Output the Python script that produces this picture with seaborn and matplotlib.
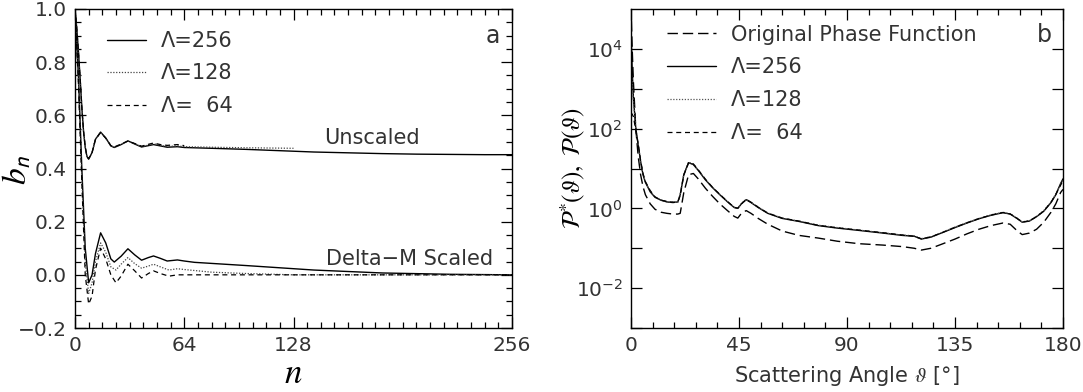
import numpy as np
import pandas as pd
import matplotlib
matplotlib.use("Agg")
import matplotlib.pyplot as plt
import seaborn as sns
from matplotlib.ticker import MultipleLocator, FixedLocator, NullFormatter, LogFormatterMathtext

# ---------------- data: panel a (Legendre coefficients b_n) ----------------
n_unscaled_256 = [0, 1, 2, 3, 4, 5, 6, 7, 8, 10, 12, 15, 18, 21, 23, 27, 31, 35, 39, 43, 46, 50, 54, 60, 64,
                  80, 100, 120, 140, 160, 180, 200, 220, 240, 256]
b_unscaled_256 = [1.0, 0.93, 0.84, 0.74, 0.63, 0.54, 0.48, 0.445, 0.435, 0.46, 0.51, 0.537, 0.515, 0.485, 0.479,
                  0.49, 0.504, 0.492, 0.481, 0.486, 0.49, 0.485, 0.48, 0.482, 0.479,
                  0.476, 0.472, 0.467, 0.462, 0.459, 0.456, 0.454, 0.453, 0.452, 0.452]
n_unscaled_128 = [0, 1, 2, 3, 4, 5, 6, 7, 8, 10, 12, 15, 18, 21, 23, 27, 31, 35, 39, 43, 46, 50, 54, 60, 64,
                  80, 100, 115, 128]
b_unscaled_128 = [1.0, 0.93, 0.84, 0.74, 0.63, 0.54, 0.48, 0.445, 0.436, 0.46, 0.51, 0.536, 0.515, 0.486, 0.48,
                  0.491, 0.503, 0.493, 0.482, 0.488, 0.493, 0.487, 0.483, 0.485, 0.482,
                  0.48, 0.478, 0.477, 0.476]
n_unscaled_64 = [0, 1, 2, 3, 4, 5, 6, 7, 8, 10, 12, 15, 18, 21, 23, 27, 31, 35, 39, 43, 46, 50, 54, 60, 64]
b_unscaled_64 = [1.0, 0.93, 0.84, 0.74, 0.63, 0.54, 0.48, 0.446, 0.437, 0.46, 0.51, 0.535, 0.514, 0.486, 0.481,
                 0.492, 0.503, 0.494, 0.484, 0.491, 0.496, 0.49, 0.487, 0.49, 0.486]

n_scaled_256 = [0, 2, 4, 6, 8, 10, 12, 15, 18, 21, 23, 27, 31, 35, 39, 43, 46, 50, 54, 60, 64, 70,
                100, 140, 180, 220, 256]
b_scaled_256 = [1.0, 0.75, 0.40, 0.10, -0.03, 0.0, 0.08, 0.158, 0.12, 0.06, 0.048, 0.07, 0.098, 0.075, 0.055,
                0.065, 0.071, 0.062, 0.052, 0.056, 0.052, 0.047, 0.035, 0.018, 0.007, 0.002, 0.0]
n_scaled_128 = [0, 2, 4, 6, 8, 10, 12, 15, 18, 21, 24, 27, 31, 35, 39, 43, 46, 50, 55, 60, 64, 80,
                100, 128, 160, 200, 256]
b_scaled_128 = [1.0, 0.73, 0.37, 0.05, -0.07, -0.03, 0.05, 0.12, 0.085, 0.03, 0.018, 0.04, 0.065, 0.042, 0.025,
                0.033, 0.04, 0.03, 0.018, 0.023, 0.02, 0.01, 0.005, 0.0, 0.0, 0.0, 0.0]
n_scaled_64 = [0, 2, 4, 6, 8, 10, 12, 15, 18, 21, 24, 27, 31, 35, 39, 43, 46, 50, 55, 60, 64, 128, 192, 256]
b_scaled_64 = [1.0, 0.72, 0.35, 0.0, -0.11, -0.08, 0.02, 0.10, 0.06, 0.0, -0.03, -0.005, 0.04, 0.015, -0.012,
               0.005, 0.015, 0.005, -0.005, 0.0, 0.0, 0.0, 0.0, 0.0]

# ---------------- data: panel b (phase functions) ----------------
theta = [0, 0.5, 1, 2, 3, 4, 5, 6, 8, 10, 12.5, 15, 17.5, 19.5, 20.5, 22, 24, 26, 28, 31, 34, 37, 40, 43,
         44.5, 46, 48, 50, 53, 57, 63, 70, 78, 86, 95, 105, 113, 118, 121, 125, 130, 135, 140, 145, 150,
         155, 158, 161, 163, 166, 169, 172, 175, 177, 179, 180]
p_original = [1.2e5, 1.0e4, 1.5e3, 100, 20, 7, 3.5, 2.2, 1.3, 0.95, 0.8, 0.75, 0.72, 0.72, 0.75, 2.5, 7.0, 7.5,
              5.5, 3.2, 2.0, 1.3, 0.9, 0.63, 0.57, 0.75, 0.88, 0.75, 0.56, 0.40, 0.27, 0.21, 0.18, 0.15, 0.13,
              0.12, 0.11, 0.10, 0.09, 0.10, 0.13, 0.17, 0.23, 0.30, 0.37, 0.43, 0.40, 0.27, 0.22, 0.24, 0.30,
              0.45, 0.80, 1.3, 2.5, 3.0]
p_256 = [3.0e4, 3.0e3, 600, 100, 40, 15, 7.0, 4.5, 2.6, 1.9, 1.6, 1.45, 1.4, 1.45, 2.2, 7.0, 14.0, 12.5, 9.0,
         5.2, 3.3, 2.2, 1.5, 1.05, 1.0, 1.3, 1.65, 1.4, 1.05, 0.75, 0.56, 0.47, 0.37, 0.32, 0.28, 0.24, 0.21,
         0.20, 0.17, 0.19, 0.25, 0.33, 0.43, 0.55, 0.67, 0.78, 0.72, 0.55, 0.45, 0.48, 0.62, 0.85, 1.4, 2.2,
         4.2, 5.5]
p_128 = [3.0e3, 1.5e3, 500, 100, 40, 15, 7.2, 4.6, 2.7, 1.9, 1.65, 1.45, 1.45, 1.4, 2.3, 7.2, 14.5, 12.8, 9.2,
         5.3, 3.4, 2.25, 1.5, 1.07, 1.02, 1.32, 1.7, 1.42, 1.08, 0.77, 0.57, 0.48, 0.38, 0.33, 0.285, 0.245,
         0.215, 0.205, 0.175, 0.195, 0.255, 0.34, 0.44, 0.56, 0.69, 0.80, 0.73, 0.56, 0.46, 0.49, 0.63, 0.88,
         1.45, 2.3, 4.0, 5.2]
p_64 = [250, 230, 200, 90, 40, 16, 7.5, 4.7, 2.8, 1.95, 1.6, 1.5, 1.42, 1.45, 2.1, 6.8, 14.0, 13.0, 9.3,
        5.4, 3.35, 2.25, 1.52, 1.06, 1.01, 1.3, 1.68, 1.43, 1.07, 0.76, 0.57, 0.48, 0.375, 0.325, 0.285,
        0.245, 0.215, 0.2, 0.172, 0.193, 0.252, 0.335, 0.435, 0.555, 0.68, 0.79, 0.725, 0.555, 0.455, 0.485,
        0.625, 0.86, 1.42, 2.25, 3.8, 5.0]

legend_a = ["Λ=256", "Λ=128", "Λ=  64"]
legend_b = ["Original Phase Function", "Λ=256", "Λ=128", "Λ=  64"]

# ---------------- style ----------------
sns.set_theme(style="ticks")
plt.rcParams["font.family"] = ["DejaVu Sans"]
plt.rcParams["mathtext.fontset"] = "stix"
plt.rcParams["axes.linewidth"] = 1.0
plt.rcParams["xtick.direction"] = "in"
plt.rcParams["ytick.direction"] = "in"

TXT = "#333333"
SOLID = "-"
DOTTED = (0, (1, 1.3))
DASHED = (0, (4, 3))
LONGDASH = (0, (7.5, 3.5))

W, H = 1083, 392
fig = plt.figure(figsize=(W / 100, H / 100), dpi=100)
ax1 = fig.add_axes([75 / W, (H - 328) / H, 437 / W, 319 / H])
ax2 = fig.add_axes([631 / W, (H - 328) / H, 432 / W, 319 / H])


def draw(ax, x, y, ls, lw, label=None, color="black"):
    df = pd.DataFrame({"x": x, "y": y})
    sns.lineplot(data=df, x="x", y="y", ax=ax, color=color, linewidth=lw, linestyle=ls,
                 label=label, sort=False, legend=False)


# panel a
draw(ax1, n_unscaled_256, b_unscaled_256, SOLID, 1.0, legend_a[0])
draw(ax1, n_unscaled_128, b_unscaled_128, DOTTED, 0.9, legend_a[1], color="#444444")
draw(ax1, n_unscaled_64, b_unscaled_64, DASHED, 0.9, legend_a[2])
draw(ax1, n_scaled_256, b_scaled_256, SOLID, 1.0)
draw(ax1, n_scaled_128, b_scaled_128, DOTTED, 0.9, color="#444444")
draw(ax1, n_scaled_64, b_scaled_64, DASHED, 0.9)

ax1.set_xlim(0, 256)
ax1.set_ylim(-0.2, 1.0)
ax1.xaxis.set_major_locator(FixedLocator([0, 64, 128, 256]))
ax1.xaxis.set_minor_locator(MultipleLocator(8))
ax1.yaxis.set_major_locator(MultipleLocator(0.2))
ax1.yaxis.set_minor_locator(MultipleLocator(0.05))
ax1.yaxis.set_major_formatter(matplotlib.ticker.FuncFormatter(lambda v, p: f"{v:.1f}".replace("-", "\u2212")))
ax1.set_xlabel(r"$n$", fontsize=25, color="black", va="baseline")
ax1.set_ylabel(r"$b_{\mathsf{n}}$", fontsize=24, color="black")
ax1.xaxis.set_label_coords(0.5, -(383 - 328) / 319)
ax1.yaxis.set_label_coords(-0.095, 0.495)
ax1.text(174, 0.516, "Unscaled", ha="center", va="center", fontsize=15, color=TXT)
ax1.text(196, 0.061, "Delta\u2212M Scaled", ha="center", va="center", fontsize=15, color=TXT)
ax1.text(0.955, 0.915, "a", transform=ax1.transAxes, ha="center", va="center", fontsize=17, color=TXT)
h, l = ax1.get_legend_handles_labels()
ax1.legend(h[:3], l[:3], loc="upper left", bbox_to_anchor=(0.03, 0.99), frameon=False, fontsize=15,
           handlelength=1.9, handletextpad=0.7, labelspacing=0.6, labelcolor=TXT)

# panel b
draw(ax2, theta, p_original, LONGDASH, 1.0, legend_b[0])
draw(ax2, theta, p_256, SOLID, 1.0, legend_b[1])
draw(ax2, theta, p_128, DOTTED, 0.9, legend_b[2], color="#555555")
draw(ax2, theta, p_64, DASHED, 0.9, legend_b[3])
ax2.set_yscale("log")
ax2.set_xlim(0, 180)
ax2.set_ylim(1e-3, 1e5)
ax2.xaxis.set_major_locator(MultipleLocator(45))
ax2.xaxis.set_minor_locator(MultipleLocator(9))
ax2.yaxis.set_major_locator(FixedLocator([1e-2, 1e0, 1e2, 1e4]))
ax2.yaxis.set_major_formatter(LogFormatterMathtext())
ax2.yaxis.set_minor_locator(FixedLocator([1e-3, 1e-1, 1e1, 1e3]))
ax2.yaxis.set_minor_formatter(NullFormatter())
ax2.set_xlabel("Scattering Angle $\\vartheta$ [°]", fontsize=15, color=TXT, va="baseline")
ax2.set_ylabel(r"$\mathcal{P}^{*}(\vartheta),\ \mathcal{P}(\vartheta)$", fontsize=18, color="black")
ax2.xaxis.set_label_coords(0.5, -(382 - 328) / 319)
ax2.yaxis.set_label_coords(-0.1, 0.5)
ax2.text(0.957, 0.918, "b", transform=ax2.transAxes, ha="center", va="center", fontsize=17, color=TXT)
h, l = ax2.get_legend_handles_labels()
ax2.legend(h, l, loc="upper left", bbox_to_anchor=(0.04, 1.01), frameon=False, fontsize=15,
           handlelength=2.35, handletextpad=0.7, labelspacing=0.62, labelcolor=TXT)

for ax in (ax1, ax2):
    ax.tick_params(which="both", top=True, right=True, direction="in", labelsize=14.5,
                   labelcolor=TXT, color="black", width=0.9, pad=6)
    ax.tick_params(which="major", length=8)
    ax.tick_params(which="minor", length=4)
    for s in ax.spines.values():
        s.set_color("black")
        s.set_linewidth(1.0)
ax2.tick_params(axis="y", which="minor", length=8)

fig.savefig("out.png", dpi=100)
